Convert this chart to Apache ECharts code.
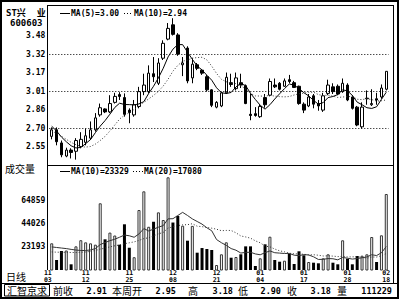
<!DOCTYPE html>
<html><head><meta charset="utf-8">
<script src="https://cdn.jsdelivr.net/npm/echarts@6/dist/echarts.min.js"></script>
<style>html,body{margin:0;padding:0;background:#fff}#c{width:400px;height:300px}</style>
</head><body><div id="c"></div>
<script>
const dates = ['11/03','11/04','11/05','11/08','11/09','11/10','11/11','11/12','11/15','11/16','11/17','11/18','11/19','11/22','11/23','11/24','11/25','11/26','11/29','11/30',
'12/01','12/02','12/03','12/06','12/07','12/08','12/09','12/10','12/13','12/14','12/15','12/16','12/17','12/20','12/21','12/22','12/23','12/24','12/27','12/28','12/29','12/30','12/31',
'01/04','01/05','01/06','01/07','01/10','01/11','01/12','01/13','01/14','01/17','01/18','01/19','01/20','01/21','01/24','01/25','01/26','01/27','01/28','01/31',
'02/01','02/02','02/03','02/04','02/16','02/17','02/18'];
const dateTicks = ['11/03','11/12','11/25','12/08','12/21','01/04','01/17','01/28','02/18'];
const open = [2.635,2.69,2.58,2.47,2.52,2.51,2.55,2.585,2.62,2.69,
2.815,2.865,2.84,2.92,2.985,2.96,2.855,2.815,2.885,3.01,
3.01,3.16,3.08,3.29,3.45,3.57,3.485,3.235,3.375,3.125,
3.235,3.19,3.135,3.025,2.88,2.89,3.00,3.085,3.035,3.085,
3.06,2.82,2.825,2.80,2.96,2.98,3.065,3.08,3.055,3.11,
3.085,3.055,2.905,2.89,2.975,2.91,2.855,2.995,3.05,3.055,
3.01,3.065,2.965,2.88,2.715,2.95,2.90,2.95,2.965,3.03];
const close = [2.69,2.59,2.48,2.52,2.50,2.60,2.61,2.64,2.69,2.79,
2.875,2.84,2.91,2.97,2.97,2.82,2.835,2.90,3.01,3.065,
3.165,3.135,3.25,3.415,3.54,3.49,3.325,3.25,3.10,3.24,
3.205,3.165,3.025,2.895,2.92,3.00,3.13,3.07,3.125,3.065,
2.91,2.81,2.81,2.885,2.90,3.095,3.05,3.03,3.10,3.095,
3.045,2.91,2.855,2.965,2.905,2.89,2.975,3.065,3.01,2.99,
3.08,2.94,2.87,2.73,2.88,2.955,2.91,2.94,3.04,3.18];
const high = [2.71,2.71,2.60,2.54,2.535,2.62,2.67,2.70,2.76,2.83,
2.91,2.87,2.98,3.00,3.005,2.995,2.87,2.94,3.05,3.16,
3.23,3.30,3.29,3.44,3.585,3.625,3.50,3.30,3.39,3.29,
3.25,3.20,3.15,3.03,2.93,3.01,3.17,3.16,3.17,3.16,
3.07,2.995,2.88,2.90,2.99,3.12,3.12,3.09,3.12,3.15,
3.10,3.06,2.92,2.99,2.99,2.94,3.00,3.11,3.08,3.07,
3.12,3.08,2.98,2.89,2.92,3.02,3.03,3.00,3.07,3.18];
const low = [2.61,2.56,2.46,2.46,2.45,2.44,2.535,2.56,2.605,2.675,
2.80,2.83,2.83,2.91,2.94,2.80,2.745,2.80,2.87,2.98,
2.995,3.09,3.065,3.275,3.44,3.48,3.31,3.14,3.08,3.08,
3.19,3.15,3.01,2.88,2.87,2.88,2.99,3.05,3.02,3.04,
2.905,2.77,2.80,2.79,2.875,2.97,3.04,3.02,3.05,3.08,
3.04,2.90,2.83,2.88,2.87,2.85,2.84,2.98,2.99,2.98,
3.00,2.93,2.86,2.72,2.70,2.90,2.89,2.90,2.95,3.02];
const volume = [26230,11300,19350,19800,7450,23500,29000,27100,26200,25000,
62000,29800,35800,33200,25000,43220,22300,13800,56000,72700,
41000,45500,53900,47060,85240,44800,50700,41960,28560,41800,
17830,22000,21130,20240,6830,16390,27120,13360,13980,16390,
23500,23500,5940,12820,25330,32130,11300,9780,10680,16930,
7720,19080,15500,9510,8890,8350,12820,16390,8890,7450,
28910,12460,7450,14880,15150,16390,31860,9510,33380,70300];
const ma5 = [2.72,2.68,2.63,2.59,2.556,2.538,2.542,2.574,2.608,2.666,
2.721,2.767,2.821,2.877,2.913,2.902,2.901,2.899,2.907,2.926,
2.995,3.055,3.125,3.206,3.301,3.366,3.404,3.404,3.341,3.281,
3.224,3.192,3.147,3.106,3.042,3.001,2.994,3.003,3.049,3.078,
3.06,2.996,2.944,2.896,2.863,2.90,2.948,2.992,3.035,3.074,
3.064,3.036,3.001,2.974,2.936,2.905,2.918,2.96,2.969,2.986,
3.024,3.017,2.978,2.922,2.90,2.875,2.869,2.883,2.945,3.005];
const ma10 = [2.68,2.66,2.635,2.61,2.585,2.565,2.55,2.545,2.55,2.57,
2.60,2.635,2.68,2.73,2.78,2.812,2.834,2.86,2.892,2.92,
2.949,2.978,3.012,3.057,3.114,3.181,3.23,3.265,3.274,3.291,
3.295,3.298,3.276,3.224,3.162,3.113,3.093,3.075,3.078,3.06,
3.031,2.995,2.974,2.973,2.971,2.98,2.972,2.968,2.966,2.969,
2.982,2.992,2.997,3.005,3.005,2.985,2.977,2.981,2.972,2.961,
2.965,2.968,2.969,2.946,2.943,2.95,2.943,2.931,2.934,2.94];
const volMa10 = [23000,22500,22000,21500,20800,20200,19800,19800,20300,21493,
25070,26920,28565,29905,31660,33632,32962,31632,34612,39382,
37282,38852,40662,42048,48072,48230,51070,53886,51142,48052,
45735,43385,40108,37426,29585,26744,24386,21526,20068,17527,
18094,18244,16725,15983,17833,19407,17825,17467,17137,17191,
15613,15171,16127,15796,14152,11774,11926,12587,12408,11460,
13579,12917,12112,12649,13275,14079,15983,15295,17744,23329];
const volMa20 = [18500,18300,18200,18100,18000,18000,18200,18500,19000,19800,
21000,22000,23000,24000,24800,25800,26700,27500,28800,30438,
31176,32886,34614,35977,39866,40931,42016,42759,42877,43717,
41509,41119,40385,39737,38829,37487,37728,37706,35605,32790,
31915,30815,28417,26705,23709,23076,21106,19497,18603,17359,
16854,16708,16426,15890,15993,15591,14876,15027,14773,14326,
14596,14044,14120,14223,13714,12927,13955,13941,15076,17080];
const priceTicks = [2.548,2.703,2.858,3.013,3.168,3.323,3.478];
const priceGridLines = [2.703,3.013,3.323];
const volumeTicks = [23193,44026,64859];
const priceLegend = ['MA(5)=3.00','MA(10)=2.94'];
const volumeLegend = ['MA(10)=23329','MA(20)=17080'];
const stockName = 'ST兴  业';
const stockCode = '600603';
const volumeTitle = '成交量';
const periodTitle = '日线';
const sourceTitle = '汇智京求';
const infoLabels = ['前收','本周开','高','低','收','量'];
const infoValues = ['2.91','2.95','3.18','2.90','3.18','111229'];

const mono = '"DejaVu Sans Mono","Liberation Mono",monospace';
const cjk = '"Noto Sans CJK SC",sans-serif';
const monoB = px => 'bold ' + px + 'px ' + mono;
const mixB = px => 'bold ' + px + 'px ' + mono + ',' + cjk;

const candleData = open.map((o, i) => [o, close[i], low[i], high[i]]);
const volData = volume.map((v, i) => ({
  value: v,
  itemStyle: close[i] >= open[i]
    ? {color: '#fff', borderColor: '#333', borderWidth: 1}
    : {color: '#000', borderColor: '#000', borderWidth: 0}
}));

function txt(text, x, y, font, align) {
  return {type: 'text', silent: true, z: 100,
    style: {text: text, x: x, y: y, font: font, fill: '#000', textAlign: align || 'left', textVerticalAlign: 'middle'}};
}
function ln(x1, y1, x2, y2, w, dash, color) {
  return {type: 'line', silent: true, z: 100,
    shape: {x1: x1, y1: y1, x2: x2, y2: y2},
    style: {stroke: color || '#000', lineWidth: w || 1, lineDash: dash || null}};
}

const infoLabelX = [53, 112, 188, 238, 287, 337];
const infoValueX = [107, 176, 233, 281, 331, 392];
const graphics = [
  {type: 'rect', silent: true, z: 100, shape: {x: 1, y: 1, width: 397, height: 297}, style: {fill: 'none', stroke: '#000', lineWidth: 2}},
  ln(47.5, 5.5, 393.5, 5.5),
  ln(47.5, 5, 47.5, 270),
  ln(393.5, 5, 393.5, 283.5),
  ln(47.5, 165.5, 393.5, 165.5),
  ln(1, 283.5, 398, 283.5),
  {type: 'rect', silent: true, z: 100, shape: {x: 4.5, y: 284.5, width: 45, height: 11.5}, style: {fill: 'none', stroke: '#000', lineWidth: 1}},
  txt(stockName, 6, 12.5, mixB(9)),
  txt(stockCode, 10, 22.5, monoB(9)),
  ln(60, 13.5, 70, 13.5, 1),
  txt(priceLegend[0], 71, 13.5, monoB(8)),
  ln(124, 13.5, 133, 13.5, 1, [1, 2]),
  txt(priceLegend[1], 134, 13.5, monoB(8)),
  txt(volumeTitle, 5, 168, '10px ' + cjk),
  ln(60, 171.5, 70, 171.5, 1),
  txt(volumeLegend[0], 71, 171.5, monoB(8)),
  ln(133, 171.5, 143, 171.5, 1, [1, 2]),
  txt(volumeLegend[1], 144, 171.5, monoB(8)),
  txt(periodTitle, 6, 276, '10px ' + cjk),
  txt(sourceTitle, 7, 290.5, '10px ' + cjk)
];
infoLabels.forEach((l, i) => {
  graphics.push(txt(l, infoLabelX[i], 290.5, '10px ' + cjk));
  graphics.push(txt(infoValues[i], infoValueX[i], 290.5, monoB(8.5), 'right'));
});

const axisFont = {fontFamily: mono, fontWeight: 'bold', fontSize: 8, color: '#000'};
const gridL = 49.3, gridW = 339.4;

const chart = echarts.init(document.getElementById('c'), null, {renderer: 'svg', width: 400, height: 300});
chart.setOption({
  animation: false,
  backgroundColor: '#fff',
  grid: [
    {left: gridL, width: gridW, top: 5, height: 160},
    {left: gridL, width: gridW, top: 165, height: 105}
  ],
  xAxis: [
    {type: 'category', gridIndex: 0, data: dates, boundaryGap: true,
      axisLine: {show: false}, axisTick: {show: false}, axisLabel: {show: false}, splitLine: {show: false}},
    {type: 'category', gridIndex: 1, data: dates, boundaryGap: true,
      axisLine: {show: false}, axisTick: {show: false}, splitLine: {show: false},
      axisLabel: {interval: (i, v) => dateTicks.indexOf(dates[i]) >= 0,
        formatter: v => v.replace('/', '\n'), fontFamily: mono, fontWeight: 'bold', fontSize: 6.5, lineHeight: 6.5,
        color: '#000', margin: 0, alignMinLabel: 'right'}}
  ],
  yAxis: [
    {type: 'value', gridIndex: 0, min: 2.395, max: 3.736,
      axisLine: {show: false}, axisTick: {show: false}, splitLine: {show: false},
      axisLabel: Object.assign({customValues: priceTicks, formatter: v => v.toFixed(2), margin: 4}, axisFont)},
    {type: 'value', gridIndex: 1, min: 2360, max: 96240,
      axisLine: {show: false}, axisTick: {show: false}, splitLine: {show: false},
      axisLabel: Object.assign({customValues: volumeTicks, formatter: v => String(v), margin: 4}, axisFont)}
  ],
  series: [
    {type: 'candlestick', xAxisIndex: 0, yAxisIndex: 0, data: candleData, barWidth: 3, silent: true,
      itemStyle: {color: '#fff', color0: '#000', borderColor: '#000', borderColor0: '#000', borderWidth: 1},
      markLine: {silent: true, symbol: 'none', label: {show: false},
        lineStyle: {color: '#000', type: [1, 2], width: 1},
        data: priceGridLines.map(v => ({yAxis: v}))}},
    {type: 'line', xAxisIndex: 0, yAxisIndex: 0, data: ma5, showSymbol: false, silent: true,
      lineStyle: {color: '#000', width: 1}, z: 5},
    {type: 'line', xAxisIndex: 0, yAxisIndex: 0, data: ma10, showSymbol: false, silent: true,
      lineStyle: {color: '#333', width: 1, type: [1, 2]}, z: 5},
    {type: 'bar', xAxisIndex: 1, yAxisIndex: 1, data: volData, barWidth: 3, silent: true, clip: true},
    {type: 'line', xAxisIndex: 1, yAxisIndex: 1, data: volMa10, showSymbol: false, silent: true,
      lineStyle: {color: '#333', width: 1}, z: 5},
    {type: 'line', xAxisIndex: 1, yAxisIndex: 1, data: volMa20, showSymbol: false, silent: true,
      lineStyle: {color: '#333', width: 1, type: [1, 2]}, z: 5}
  ],
  graphic: graphics
});
</script></body></html>
